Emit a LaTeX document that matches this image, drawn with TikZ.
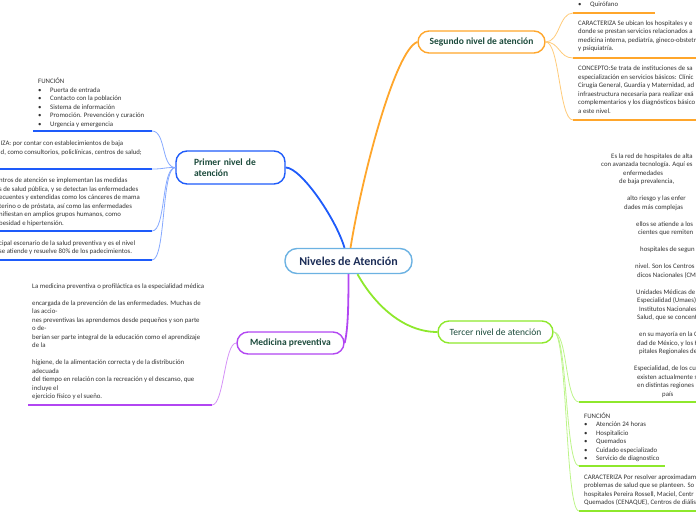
\documentclass[tikz,border=0pt]{standalone}
\usepackage{fontspec}
\setmainfont{Carlito}
\usepackage{xcolor}
\usepackage{tikz}
\definecolor{Ink}{HTML}{333333}
\definecolor{TopicInk}{HTML}{1B4A3B}
\definecolor{HubInk}{HTML}{1C2D57}
\definecolor{HubLine}{HTML}{6CB2E2}
\definecolor{BranchBlue}{HTML}{1E5BFA}
\definecolor{SoftBlue}{HTML}{86A9FF}
\definecolor{BranchOrange}{HTML}{FFA62B}
\definecolor{SoftOrange}{HTML}{FFCB7A}
\definecolor{BranchLime}{HTML}{8EE82C}
\definecolor{SoftLime}{HTML}{BDF48A}
\definecolor{BranchViolet}{HTML}{B246F2}
\definecolor{SoftViolet}{HTML}{D592F7}
\newcommand{\bitem}{\makebox[12pt][l]{\textbullet}}

\begin{document}
\begin{tikzpicture}[
  x=1pt, y=-1pt,
  hub/.style={draw=HubLine, line width=1.4pt, rounded corners=12pt, fill=white, minimum width=127pt, minimum height=25pt, font=\fontsize{12}{14}\selectfont\bfseries, text=HubInk},
  topic/.style={line width=1.4pt, rounded corners=11pt, fill=white, minimum height=22pt, font=\fontsize{9.5}{11}\selectfont\bfseries, text=TopicInk},
  note/.style={anchor=north west, inner sep=0pt, align=left, font=\fontsize{6.8}{8.5}\selectfont, text=Ink},
  rule/.style={line width=1.6pt},
  trunk/.style={line width=1.8pt},
  twig/.style={line width=0.8pt}
]
  \useasboundingbox (0,0) rectangle (696,520);
  \clip (0,0) rectangle (696,520);

  % topics
  \node[hub] (levels) at (348.5,261) {Niveles de Atención};
  \node[topic, draw=BranchBlue, text width=73pt, align=left, inner xsep=18pt, minimum height=33pt] (first) at (230.5,167.5) {Primer nivel de\\atención};
  \node[topic, draw=BranchOrange, minimum width=127pt] (second) at (481.5,42) {Segundo nivel de atención};
  \node[topic, draw=BranchLime, minimum width=115pt, font=\fontsize{9.5}{11}\selectfont] (third) at (495.5,332) {Tercer nivel de atención};
  \node[topic, draw=BranchViolet, minimum width=107pt] (prev) at (290.5,343) {Medicina preventiva};

  \draw[trunk, draw=BranchBlue] ([xshift=-4pt]levels.north) .. controls +(-9,-30) and +(15,0) .. (first.east);
  \draw[trunk, draw=BranchOrange] ([xshift=2pt]levels.north) .. controls +(12,-74) and +(-22,8) .. (second.west);
  \draw[trunk, draw=BranchLime] ([xshift=9pt]levels.south) .. controls +(18,32) and +(-33,0) .. (third.west);
  \draw[trunk, draw=BranchViolet] (levels.south) .. controls +(0,37) and +(3,-13) .. (prev.east);

  % primer nivel
  \node[note] (firstfun) at (38,78) {FUNCIÓN\\
    \bitem Puerta de entrada\\
    \bitem Contacto con la población\\
    \bitem Sistema de información\\
    \bitem Promoción. Prevención y curación\\
    \bitem Urgencia y emergencia};
  \node[note] (firstcar) at (0.5,141) {IZA: por contar con establecimientos de baja\\
    d, como consultorios, policlínicas, centros de salud;};
  \node[note] (firstcen) at (-1,178) {ntros de atención se implementan las medidas\\
    s de salud pública, y se detectan las enfermedades\\
    ecuentes y extendidas como los cánceres de mama\\
    terino o de próstata, así como las enfermedades\\
    nifiestan en amplios grupos humanos, como\\
    besidad e hipertensión.};
  \node[note] (firstesc) at (-1,240.5) {cipal escenario de la salud preventiva y es el nivel\\
    se atiende y resuelve 80\% de los padecimientos.};
  \coordinate (f1) at (152,131);
  \coordinate (f2) at (152,169);
  \coordinate (f3) at (152,231);
  \coordinate (f4) at (152,260);
  \draw[rule, draw=BranchBlue] (f1) -- (33,131);
  \draw[rule, draw=BranchBlue] (f2) -- (-5,169);
  \draw[rule, draw=BranchBlue] (f3) -- (-5,231);
  \draw[rule, draw=BranchBlue] (f4) -- (-5,260);
  \foreach \f in {f1,f2,f3,f4}
    \draw[twig, draw=SoftBlue] (first.west) .. controls +(-14,0) and +(14,0) .. (\f);

  % segundo nivel
  \node[note] (secondqui) at (578,1.5) {\bitem Quirófano};
  \node[note] (secondcar) at (578,20.5) {CARACTERIZA Se ubican los hospitales y e\\
    donde se prestan servicios relacionados a\\
    medicina interna, pediatría, gineco-obstetr\\
    y psiquiatría.};
  \node[note] (secondcon) at (578,66) {CONCEPTO:Se trata de instituciones de sa\\
    especialización en servicios básicos: Clínic\\
    Cirugía General, Guardia y Maternidad, ad\\
    infraestructura necesaria para realizar exá\\
    complementarios y los diagnósticos básico\\
    a este nivel.};
  \coordinate (s1) at (573,13);
  \coordinate (s2) at (573,58);
  \coordinate (s3) at (573,120);
  \draw[rule, draw=BranchOrange] (s1) -- (655,13);
  \draw[rule, draw=BranchOrange] (s2) -- (700,58);
  \draw[rule, draw=BranchOrange] (s3) -- (700,120);
  \foreach \s in {s1,s2,s3}
    \draw[twig, draw=SoftOrange] (second.east) .. controls +(14,0) and +(-14,0) .. (\s);

  % tercer nivel
  \node[note] (thirdnet) at (600,153.5) {\hspace*{11pt}Es la red de hospitales de alta\\
    \hspace*{1pt}con avanzada tecnología. Aquí es\\
    \hspace*{23pt}enfermedades\\
    \hspace*{19pt}de baja prevalencia,\\[8.5pt]
    \hspace*{27pt}alto riesgo y las enfer\\
    \hspace*{24pt}dades más complejas\\[8.5pt]
    \hspace*{36pt}ellos se atiende a los\\
    \hspace*{38pt}cientes que remiten\\[8.5pt]
    \hspace*{40pt}hospitales de segun\\[8.5pt]
    \hspace*{35pt}nivel. Son los Centros\\
    \hspace*{37pt}dicos Nacionales (CM\\[8.5pt]
    \hspace*{36pt}Unidades Médicas de\\
    \hspace*{37pt}Especialidad (Umaes)\\
    \hspace*{39pt}Institutos Nacionales\\
    \hspace*{37pt}Salud, que se concent\\[8.5pt]
    \hspace*{39pt}en su mayoría en la C\\
    \hspace*{37pt}dad de México, y los H\\
    \hspace*{39pt}pitales Regionales de\\[8.5pt]
    \hspace*{34pt}Especialidad, de los cu\\
    \hspace*{37pt}existen actualmente s\\
    \hspace*{37pt}en distintas regiones\\
    \hspace*{62pt}país};
  \node[note] (thirdfun) at (584,412.5) {FUNCIÓN\\
    \bitem Atención 24 horas\\
    \bitem Hospitalicio\\
    \bitem Quemados\\
    \bitem Cuidado especializado\\
    \bitem Servicio de diagnostico};
  \node[note] (thirdcar) at (584,474.5) {CARACTERIZA Por resolver aproximadam\\
    problemas de salud que se planteen. So\\
    hospitales Pereira Rossell, Maciel, Centr\\
    Quemados (CENAQUE), Centros de diális};
  \coordinate (t1) at (579,402);
  \coordinate (t2) at (579,466);
  \coordinate (t3) at (579,511);
  \draw[rule, draw=BranchLime] (t1) -- (700,402);
  \draw[rule, draw=BranchLime] (t2) -- (665,466);
  \draw[rule, draw=BranchLime] (t3) -- (700,511);
  \foreach \t in {t1,t2,t3}
    \draw[twig, draw=SoftLime] (third.east) .. controls +(14,0) and +(-14,0) .. (\t);

  % medicina preventiva
  \node[note] (prevtext) at (32,283.5) {La medicina preventiva o profiláctica es la especialidad médica\\[8.5pt]
    encargada de la prevención de las enfermedades. Muchas de\\
    las accio-\\
    nes preventivas las aprendemos desde pequeños y son parte\\
    o de-\\
    berían ser parte integral de la educación como el aprendizaje\\
    de la\\[8.5pt]
    higiene, de la alimentación correcta y de la distribución\\
    adecuada\\
    del tiempo en relación con la recreación y el descanso, que\\
    incluye el\\
    ejercicio físico y el sueño.};
  \coordinate (p1) at (212,405);
  \draw[rule, draw=BranchViolet] (p1) -- (28,405);
  \draw[twig, draw=SoftViolet] (prev.west) .. controls +(-12,0) and +(12,0) .. (p1);
\end{tikzpicture}
\end{document}
